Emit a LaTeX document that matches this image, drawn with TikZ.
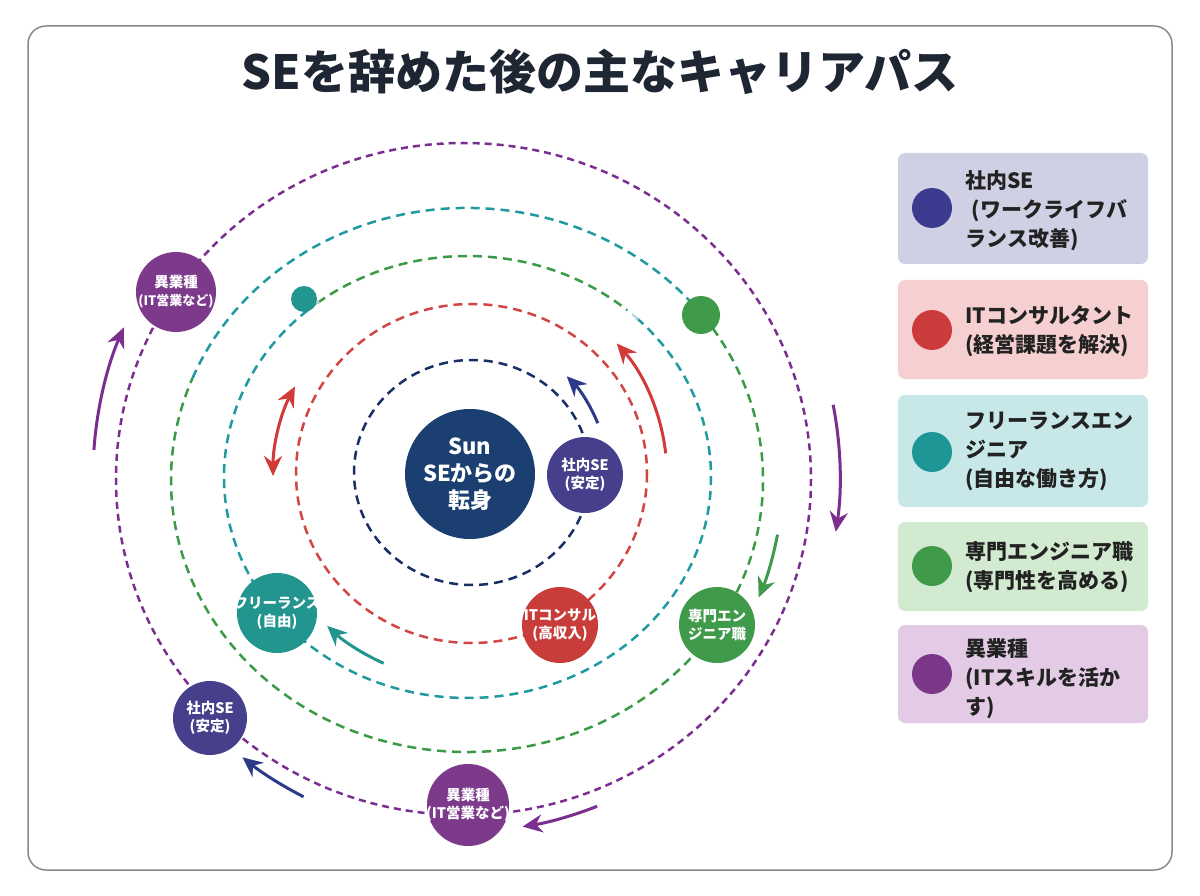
\documentclass[tikz,border=0pt]{standalone}
\usepackage{fontspec}
\setmainfont{Noto Sans CJK JP}
\usetikzlibrary{arrows.meta}
\definecolor{titleC}{HTML}{1F2633}
\definecolor{frameC}{HTML}{8A8A8A}
\definecolor{sunC}{HTML}{1B3F70}
\definecolor{navyO}{HTML}{1A2E66}
\definecolor{redO}{HTML}{D24545}
\definecolor{tealO}{HTML}{1F9AA0}
\definecolor{greenO}{HTML}{3A9A45}
\definecolor{purpO}{HTML}{7A2F90}
\definecolor{paleO}{HTML}{B8D4DA}
\definecolor{indigoP}{HTML}{46408C}
\definecolor{redP}{HTML}{C83C3A}
\definecolor{tealP}{HTML}{23958F}
\definecolor{greenP}{HTML}{3F9A4A}
\definecolor{purpP}{HTML}{7D3A8B}
\definecolor{navyA}{HTML}{2C3A8A}
\definecolor{redA}{HTML}{D23A3A}
\definecolor{purpA}{HTML}{7A2F8E}
\definecolor{boxA}{HTML}{D0D0E4}
\definecolor{boxB}{HTML}{F6D0D0}
\definecolor{boxC}{HTML}{C8E7E8}
\definecolor{boxD}{HTML}{D2EACF}
\definecolor{boxE}{HTML}{E3CBE5}
\definecolor{dotA}{HTML}{3B3A8E}
\definecolor{dotB}{HTML}{CC3B3B}
\definecolor{dotC}{HTML}{1F9696}
\definecolor{dotD}{HTML}{3F9A4A}
\definecolor{dotE}{HTML}{7B388B}
\definecolor{legText}{HTML}{222222}
\begin{document}
\begin{tikzpicture}[x=1pt,y=-1pt,
  frame/.style={draw=frameC,line width=1.5pt,rounded corners=18pt},
  orb/.style={line width=2.5pt,dash pattern=on 9pt off 6pt},
  orbp/.style={line width=2.5pt,dash pattern=on 7pt off 5pt},
  planet/.style={circle,inner sep=0pt,draw=none},
  ptext/.style={text=white,align=center,font=\fontsize{14.5}{18}\selectfont\bfseries},
  arr/.style={line width=3pt,-{Stealth[length=20pt,width=18pt]}},
  darr/.style={line width=3pt,{Stealth[length=20pt,width=18pt]}-{Stealth[length=20pt,width=18pt]}},
  lbox/.style={rounded corners=7pt,minimum width=250pt,inner sep=0pt,draw=none},
  ldot/.style={circle,inner sep=0pt,minimum size=40pt,draw=none},
  ltext/.style={anchor=west,align=left,text=legText,font=\fontsize{21}{29}\selectfont\bfseries}
]
\useasboundingbox (0,0) rectangle (1200,896);
\fill[white] (0,0) rectangle (1200,896);
\draw[frame] (28,26) rectangle (1172,870);

\node[text=titleC,font=\fontsize{47}{52}\selectfont\bfseries] (title) at (600,72) {SEを辞めた後の主なキャリアパス};

% orbits
\draw[orb,navyO] (472,472.5) ellipse [x radius=118, y radius=112.5];
\draw[orb,redO] (471.5,473.5) ellipse [x radius=175.5, y radius=169.5];
% inner teal/green orbit (B)
\draw[orb,tealO] (467.5,477) ++(-46:243.5 and 221) arc[start angle=-46,end angle=230,x radius=243.5,y radius=221];
\draw[orb,greenO] (467.5,477) ++(-128:243.5 and 221) arc[start angle=-128,end angle=-49,x radius=243.5,y radius=221];
\draw[line width=2pt,paleO] (467.5,477) ++(-47.5:243.5 and 221) arc[start angle=-47.5,end angle=-45.5,x radius=243.5,y radius=221];
\draw[line width=2pt,paleO] (467.5,477) ++(-129.5:243.5 and 221) arc[start angle=-129.5,end angle=-127.5,x radius=243.5,y radius=221];
% outer green/teal orbit (A)
\draw[orb,greenO] (467,480) ++(-37:296 and 272) arc[start angle=-37,end angle=202,x radius=296,y radius=272];
\draw[orb,tealO] (467,480) ++(-158:296 and 272) arc[start angle=-158,end angle=-37,x radius=296,y radius=272];
% purple orbit
\draw[orbp,purpO] (463.5,479) ellipse [x radius=347.5, y radius=336];

% motion arrows
\coordinate (O) at (467,476);
\draw[arr,navyA] (O) ++(-22:141) arc[start angle=-22,end angle=-45,radius=141];
\draw[arr,redA] (O) ++(-6.5:200) arc[start angle=-6.5,end angle=-41.5,radius=200];
\draw[darr,redA] (O) ++(207.5:194) arc[start angle=207.5,end angle=180,radius=194];
\draw[arr,tealP] (O) ++(114:205) arc[start angle=114,end angle=133,radius=205];
\draw[arr,navyA] (O) ++(117:360) arc[start angle=117,end angle=128.6,radius=360];
\draw[arr,purpA] (O) ++(68.5:355) arc[start angle=68.5,end angle=81,radius=355];
\draw[arr,greenP] (O) ++(10.7:316) arc[start angle=10.7,end angle=22.6,radius=316];
\draw[arr,purpA] (O) ++(-11:373) arc[start angle=-11,end angle=8.6,radius=373];
\draw[arr,purpA] (O) ++(184:374) arc[start angle=184,end angle=203.4,radius=374];

% planets
\node[planet,fill=sunC,minimum size=130pt] (sun) at (470,474) {};
\node[ptext,font=\fontsize{22}{27}\selectfont\bfseries] (sunT) at (sun) {Sun\\SEからの\\転身};
\node[planet,fill=indigoP,minimum size=76pt] (p1) at (585,475) {};
\node[ptext] (p1T) at (p1) {社内SE\\(安定)};
\node[planet,fill=redP,minimum size=76pt] (p2) at (560,625) {};
\node[ptext] (p2T) at (p2) {ITコンサル\\(高収入)};
\node[planet,fill=tealP,minimum size=80pt] (p3) at (277,613) {};
\node[ptext] (p3T) at (p3) {フリーランス\\(自由)};
\node[planet,fill=tealP,minimum size=26pt] (p3b) at (304,299) {};
\node[planet,fill=greenP,minimum size=76pt] (p4) at (717,625) {};
\node[ptext] (p4T) at (p4) {専門エン\\ジニア職};
\node[planet,fill=greenP,minimum size=38pt] (p4b) at (701,315) {};
\node[planet,fill=indigoP,minimum size=74pt] (p5) at (210,718) {};
\node[ptext] (p5T) at (p5) {社内SE\\(安定)};
\node[planet,fill=purpP,minimum size=82pt] (p6) at (468,805) {};
\node[ptext] (p6T) at (p6) {異業種\\(IT営業など)};
\node[planet,fill=purpP,minimum size=80pt] (p7) at (176,292) {};
\node[ptext,font=\fontsize{14.5}{18}\selectfont\bfseries] (p7T) at (p7) {異業種\\{\fontsize{13}{18}\selectfont(IT営業など)}};

% legend
\node[lbox,fill=boxA,minimum height=111pt] (b1) at (1023,208.5) {};
\node[ldot,fill=dotA] (d1) at (932,208) {};
\node[ltext] (t1) at (962,211) {社内SE\\\hspace*{0.3em}(ワークライフバ\\ランス改善)};
\node[lbox,fill=boxB,minimum height=99pt] (b2) at (1023,329.5) {};
\node[ldot,fill=dotB] (d2) at (932,330) {};
\node[ltext] (t2) at (962,331) {ITコンサルタント\\(経営課題を解決)};
\node[lbox,fill=boxC,minimum height=112pt] (b3) at (1023,451) {};
\node[ldot,fill=dotC] (d3) at (932,452) {};
\node[ltext] (t3) at (962,451) {フリーランスエン\\ジニア\\(自由な働き方)};
\node[lbox,fill=boxD,minimum height=89pt] (b4) at (1023,566.5) {};
\node[ldot,fill=dotD] (d4) at (932,566) {};
\node[ltext] (t4) at (962,567) {専門エンジニア職\\(専門性を高める)};
\node[lbox,fill=boxE,minimum height=98pt] (b5) at (1023,674) {};
\node[ldot,fill=dotE] (d5) at (932,674) {};
\node[ltext] (t5) at (962,679) {異業種\\(ITスキルを活か\\す)};
\end{tikzpicture}
\end{document}
